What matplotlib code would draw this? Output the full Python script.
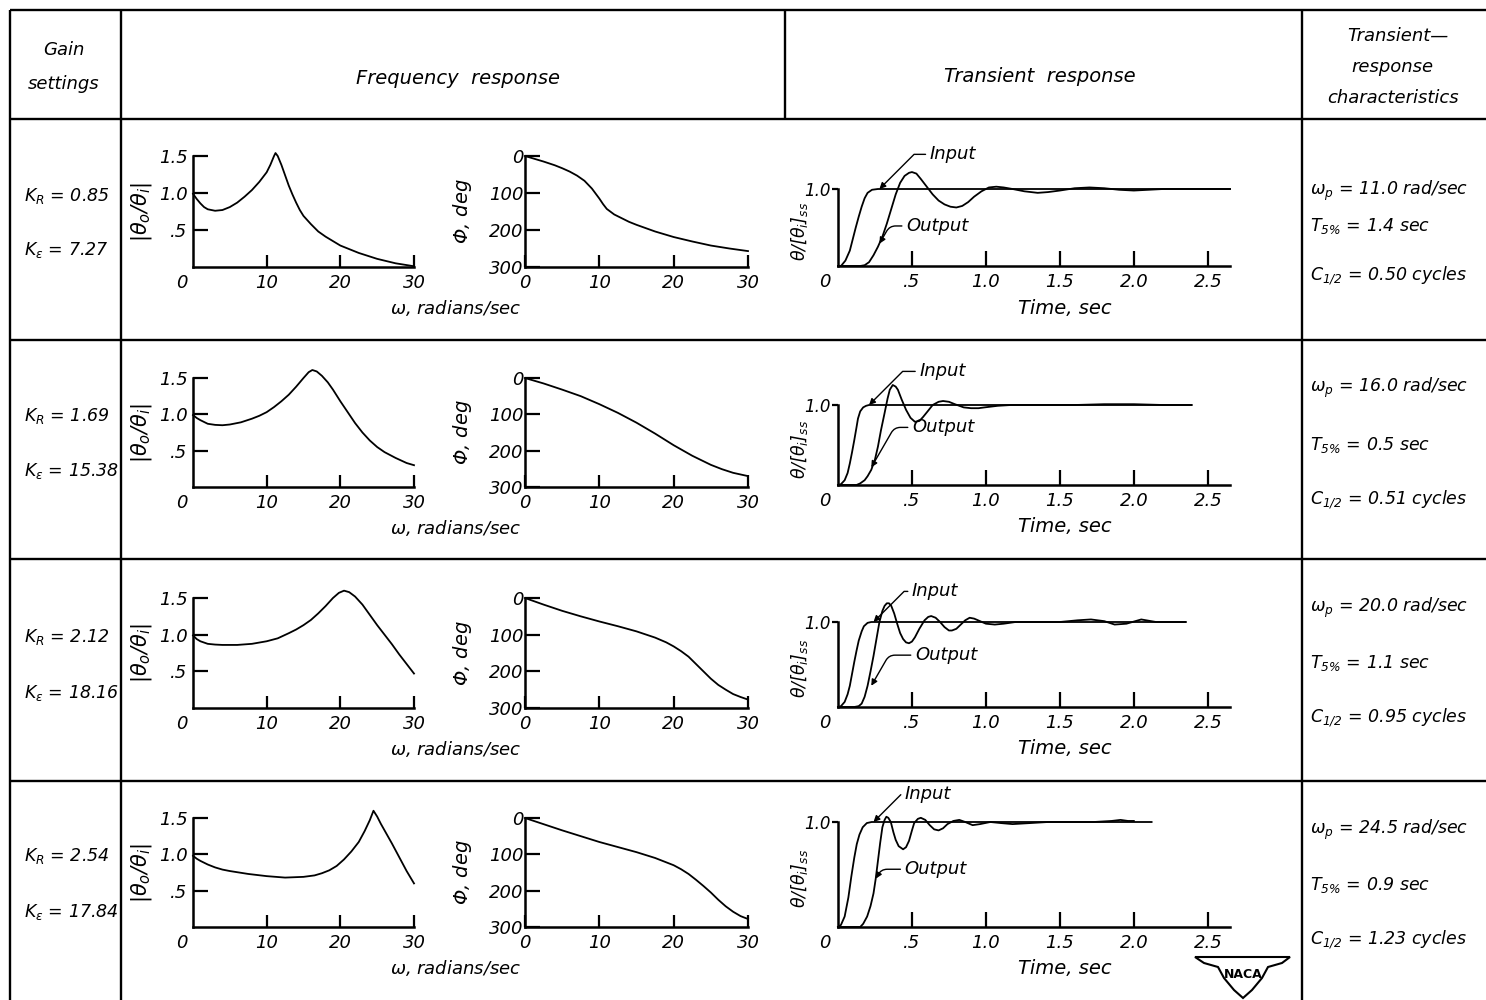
import matplotlib
matplotlib.use("Agg")
import matplotlib.pyplot as plt
from matplotlib.patches import Polygon

W, H = 1486, 1000
plt.rcParams['font.family'] = ['DejaVu Sans']
plt.rcParams['font.style'] = 'italic'
plt.rcParams['mathtext.fontset'] = 'dejavusans'

# ---------------- data ----------------
kr_values = ["0.85", "1.69", "2.12", "2.54"]
ke_values = ["7.27", "15.38", "18.16", "17.84"]
omega_p = ["11.0", "16.0", "20.0", "24.5"]
t5_values = ["1.4", "0.5", "1.1", "0.9"]
c_half = ["0.50", "0.51", "0.95", "1.23"]

# amplitude ratio |theta_o/theta_i| vs omega (rad/sec)
mag_w_1 = [0, 0.5, 1, 1.5, 2, 3, 4, 5, 6, 7, 8, 9, 10, 10.5, 11, 11.2, 11.5, 12, 12.5, 13, 13.5, 14, 14.5, 15, 16, 17, 18, 19, 20, 22.5, 25, 27.5, 30]
mag_1 = [0.99, 0.92, 0.86, 0.81, 0.78, 0.76, 0.77, 0.81, 0.87, 0.95, 1.04, 1.15, 1.28, 1.38, 1.50, 1.54, 1.50, 1.38, 1.24, 1.10, 0.98, 0.87, 0.77, 0.69, 0.58, 0.48, 0.41, 0.35, 0.29, 0.19, 0.11, 0.05, 0.01]
mag_w_2 = [0, 0.5, 1, 2, 3, 4, 5, 6.5, 8, 9, 10, 11, 12, 13, 14, 15, 15.7, 16.2, 16.8, 17.5, 18.3, 19, 20, 21, 22, 23, 24, 25, 26, 27.5, 29, 30]
mag_2 = [0.99, 0.95, 0.92, 0.87, 0.855, 0.85, 0.86, 0.89, 0.94, 0.98, 1.03, 1.10, 1.18, 1.27, 1.38, 1.50, 1.58, 1.61, 1.59, 1.53, 1.44, 1.34, 1.18, 1.03, 0.88, 0.75, 0.64, 0.55, 0.48, 0.40, 0.33, 0.30]
mag_w_3 = [0, 0.5, 1, 2, 3, 4, 6, 8, 10, 11.5, 13, 14, 15, 16, 17, 18, 19, 19.8, 20.5, 21.2, 22, 23, 24, 25, 26, 27, 28, 29, 30]
mag_3 = [0.99, 0.94, 0.91, 0.875, 0.865, 0.86, 0.86, 0.875, 0.91, 0.95, 1.02, 1.07, 1.13, 1.20, 1.29, 1.39, 1.50, 1.57, 1.60, 1.58, 1.52, 1.41, 1.27, 1.13, 1.00, 0.87, 0.73, 0.60, 0.47]
mag_w_4 = [0, 0.5, 1, 2, 3, 4, 5, 7.5, 10, 12.5, 15, 16.5, 17.5, 18.5, 19.5, 20.5, 21.5, 22.5, 23.3, 24, 24.5, 25, 25.5, 26, 27, 28, 29, 30]
mag_4 = [0.98, 0.94, 0.91, 0.86, 0.82, 0.79, 0.77, 0.73, 0.70, 0.68, 0.69, 0.71, 0.74, 0.78, 0.84, 0.93, 1.04, 1.17, 1.32, 1.47, 1.60, 1.52, 1.42, 1.33, 1.15, 0.96, 0.77, 0.60]

# phase angle (deg lag) vs omega
ph_w_1 = [0, 1, 2.5, 4, 5, 6, 7, 8, 9, 10, 10.5, 11, 12, 13, 14, 15, 17.5, 20, 22.5, 25, 27.5, 30]
ph_1 = [0, 6, 15, 25, 33, 42, 53, 67, 88, 115, 130, 143, 158, 168, 178, 186, 204, 219, 231, 242, 250, 257]
ph_w_2 = [0, 2.5, 5, 7.5, 10, 12.5, 15, 17.5, 20, 22.5, 24, 25, 26.5, 28, 30]
ph_2 = [0, 15, 32, 50, 72, 96, 123, 153, 185, 214, 229, 239, 251, 261, 270]
ph_w_3 = [0, 2.5, 5, 7.5, 10, 12.5, 15, 17.5, 19, 20, 21, 22, 23, 24, 25, 26, 27, 28, 29, 30]
ph_3 = [0, 18, 35, 50, 64, 77, 91, 108, 121, 132, 145, 160, 180, 200, 220, 237, 250, 262, 270, 277]
ph_w_4 = [0, 2.5, 5, 7.5, 10, 12.5, 15, 17.5, 19, 20, 21, 22, 23, 24, 25, 26, 27, 28, 29, 30]
ph_4 = [0, 17, 34, 50, 66, 80, 94, 110, 122, 130, 141, 154, 170, 187, 205, 225, 243, 258, 270, 278]

# transient responses theta/[theta_i]ss vs time (sec)
in_t_1 = [0, 0.02, 0.05, 0.08, 0.1, 0.12, 0.14, 0.16, 0.18, 0.2, 0.23, 0.27, 2.65]
in_1 = [0, 0, 0.07, 0.2, 0.35, 0.5, 0.64, 0.77, 0.88, 0.95, 0.99, 1.0, 1.0]
out_t_1 = [0, 0.15, 0.18, 0.21, 0.24, 0.27, 0.3, 0.33, 0.36, 0.39, 0.42, 0.45, 0.48, 0.5, 0.53, 0.56, 0.6, 0.64, 0.68, 0.72, 0.76, 0.8, 0.84, 0.88, 0.92, 0.97, 1.02, 1.07, 1.12, 1.18, 1.26, 1.35, 1.42, 1.5, 1.6, 1.7, 1.8, 1.9, 2.0, 2.1, 2.2, 2.65]
out_1 = [0, 0, 0.01, 0.05, 0.14, 0.25, 0.38, 0.55, 0.74, 0.93, 1.08, 1.17, 1.21, 1.22, 1.2, 1.13, 1.03, 0.93, 0.85, 0.8, 0.77, 0.76, 0.78, 0.83, 0.9, 0.97, 1.02, 1.03, 1.02, 1.0, 0.97, 0.95, 0.96, 0.98, 1.01, 1.02, 1.01, 0.99, 0.98, 0.99, 1.0, 1.0]
in_t_2 = [0, 0.02, 0.045, 0.065, 0.08, 0.095, 0.11, 0.125, 0.135, 0.15, 0.17, 0.19, 0.21, 2.39]
in_2 = [0, 0.01, 0.06, 0.15, 0.27, 0.41, 0.56, 0.72, 0.83, 0.92, 0.97, 0.99, 1.0, 1.0]
out_t_2 = [0, 0.125, 0.15, 0.18, 0.2, 0.225, 0.25, 0.27, 0.29, 0.315, 0.335, 0.35, 0.37, 0.39, 0.405, 0.43, 0.46, 0.49, 0.52, 0.55, 0.575, 0.61, 0.64, 0.68, 0.71, 0.75, 0.79, 0.85, 0.9, 0.95, 0.99, 1.08, 1.17, 1.4, 1.6, 1.8, 2.0, 2.2, 2.39]
out_2 = [0, 0, 0.02, 0.06, 0.11, 0.19, 0.32, 0.48, 0.68, 0.9, 1.08, 1.19, 1.25, 1.23, 1.19, 1.07, 0.94, 0.84, 0.79, 0.8, 0.85, 0.93, 1.0, 1.04, 1.05, 1.04, 1.01, 0.97, 0.96, 0.96, 0.97, 0.99, 1.0, 1.0, 1.0, 1.01, 1.01, 1.0, 1.0]
in_t_3 = [0, 0.02, 0.045, 0.065, 0.08, 0.095, 0.11, 0.125, 0.14, 0.16, 0.175, 0.2, 0.225, 2.35]
in_3 = [0, 0.01, 0.06, 0.15, 0.25, 0.39, 0.53, 0.66, 0.78, 0.89, 0.95, 0.99, 1.0, 1.0]
out_t_3 = [0, 0.11, 0.14, 0.16, 0.18, 0.2, 0.22, 0.24, 0.26, 0.28, 0.3, 0.315, 0.33, 0.345, 0.36, 0.38, 0.4, 0.42, 0.44, 0.46, 0.48, 0.5, 0.52, 0.55, 0.585, 0.61, 0.63, 0.66, 0.69, 0.72, 0.75, 0.77, 0.8, 0.83, 0.86, 0.89, 0.92, 0.96, 1.0, 1.06, 1.12, 1.2, 1.35, 1.5, 1.62, 1.71, 1.8, 1.87, 1.95, 2.05, 2.15, 2.35]
out_3 = [0, 0, 0.01, 0.04, 0.12, 0.25, 0.42, 0.6, 0.8, 1.0, 1.13, 1.19, 1.22, 1.22, 1.19, 1.1, 0.98, 0.87, 0.8, 0.76, 0.75, 0.77, 0.82, 0.92, 1.02, 1.06, 1.07, 1.05, 1.0, 0.94, 0.9, 0.9, 0.92, 0.97, 1.02, 1.05, 1.04, 1.01, 0.98, 0.97, 0.98, 1.0, 1.0, 1.0, 1.02, 1.03, 1.01, 0.97, 0.98, 1.03, 1.0, 1.0]
in_t_4 = [0, 0.02, 0.045, 0.07, 0.09, 0.11, 0.127, 0.145, 0.167, 0.195, 0.227, 2.12]
in_4 = [0, 0.02, 0.1, 0.28, 0.48, 0.66, 0.79, 0.88, 0.95, 0.99, 1.0, 1.0]
out_t_4 = [0, 0.15, 0.17, 0.197, 0.22, 0.24, 0.255, 0.27, 0.285, 0.30, 0.315, 0.327, 0.34, 0.357, 0.375, 0.39, 0.41, 0.44, 0.46, 0.48, 0.5, 0.515, 0.54, 0.56, 0.59, 0.62, 0.65, 0.68, 0.71, 0.74, 0.78, 0.82, 0.86, 0.91, 0.96, 1.03, 1.1, 1.18, 1.3, 1.42, 1.6, 1.73, 1.85, 1.91, 1.96, 2.0]
out_4 = [0, 0, 0.03, 0.1, 0.2, 0.32, 0.46, 0.63, 0.8, 0.95, 1.02, 1.05, 1.04, 1.0, 0.9, 0.83, 0.77, 0.74, 0.76, 0.82, 0.92, 0.99, 1.03, 1.04, 1.02, 0.97, 0.93, 0.92, 0.94, 0.98, 1.01, 1.02, 1.0, 0.97, 0.98, 1.0, 0.99, 0.98, 0.99, 1.0, 1.0, 1.0, 1.01, 1.02, 1.01, 1.01]

mag_w = [mag_w_1, mag_w_2, mag_w_3, mag_w_4]
mags = [mag_1, mag_2, mag_3, mag_4]
ph_w = [ph_w_1, ph_w_2, ph_w_3, ph_w_4]
phs = [ph_1, ph_2, ph_3, ph_4]
in_t = [in_t_1, in_t_2, in_t_3, in_t_4]
ins = [in_1, in_2, in_3, in_4]
out_t = [out_t_1, out_t_2, out_t_3, out_t_4]
outs = [out_1, out_2, out_3, out_4]

mag_ticks = [0.5, 1.0, 1.5]
mag_ticklabels = [".5", "1.0", "1.5"]
freq_ticks = [10, 20, 30]
phase_ticks = [0, 100, 200, 300]
time_ticks = [0.5, 1.0, 1.5, 2.0, 2.5]
time_ticklabels = [".5", "1.0", "1.5", "2.0", "2.5"]

# ---------------- layout (pixels) ----------------
row_lines = [119, 340, 559, 781]
fr_top = [156, 378, 598, 818]
fr_bot = [267, 487, 708, 927]
tr_top = [189, 405, 622, 822]
tr_bot = [266, 485, 707, 927]
kr_y = [196, 416, 637, 856]
ke_y = [250, 471, 693, 912]
ch_y = [(191, 226, 276), (388, 445, 500), (608, 663, 718), (830, 885, 940)]
in_txt = [(0.62, 1.45), (0.55, 1.42), (0.50, 1.36), (0.45, 1.27)]
in_tip = [(0.28, 1.0), (0.21, 1.0), (0.24, 1.0), (0.24, 1.0)]
out_txt = [(0.46, 0.52), (0.50, 0.72), (0.52, 0.61), (0.45, 0.55)]
out_tip = [(0.28, 0.29), (0.225, 0.22), (0.225, 0.25), (0.255, 0.46)]

fig = plt.figure(figsize=(W / 100, H / 100), dpi=100)
fig.patch.set_facecolor('white')
bg = fig.add_axes([0, 0, 1, 1])
bg.set_xlim(0, W)
bg.set_ylim(H, 0)
bg.axis('off')

LWT = 1.7
def hline(y, x0=10, x1=W):
    bg.plot([x0, x1], [y, y], color='k', lw=LWT, solid_capstyle='butt')
def vline(x, y0, y1):
    bg.plot([x, x], [y0, y1], color='k', lw=LWT, solid_capstyle='butt')

hline(10)
for y in row_lines:
    hline(y)
vline(10, 10, H)
vline(121, 10, H)
vline(785, 10, row_lines[0])
vline(1302, 10, H)

FS = 13
# header
bg.text(64, 50, "Gain", ha='center', va='center', fontsize=FS)
bg.text(64, 84, "settings", ha='center', va='center', fontsize=FS)
bg.text(458, 78, "Frequency  response", ha='center', va='center', fontsize=14)
bg.text(1040, 76, "Transient  response", ha='center', va='center', fontsize=14)
bg.text(1398, 36, "Transient\u2014", ha='center', va='center', fontsize=FS)
bg.text(1392, 67, "response", ha='center', va='center', fontsize=FS)
bg.text(1393, 98, "characteristics", ha='center', va='center', fontsize=FS)


def style(ax):
    ax.patch.set_alpha(0)
    for s in ('top', 'right'):
        ax.spines[s].set_visible(False)
    for s in ('left', 'bottom'):
        ax.spines[s].set_linewidth(1.8)
    ax.tick_params(width=1.6, labelsize=FS, colors='k')


def px_axes(x0, x1, ytop, ybot):
    ax = fig.add_axes([x0 / W, 1 - ybot / H, (x1 - x0) / W, (ybot - ytop) / H])
    style(ax)
    return ax


for i in range(4):
    # gain settings
    bg.text(24, kr_y[i], r"$K_R$ = " + kr_values[i], ha='left', va='center', fontsize=12.5)
    bg.text(24, ke_y[i], r"$K_\epsilon$ = " + ke_values[i], ha='left', va='center', fontsize=12.5)
    # characteristics
    y1, y2, y3 = ch_y[i]
    bg.text(1310, y1, r"$\omega_p$ = " + omega_p[i] + " rad/sec", ha='left', va='center', fontsize=12.5)
    bg.text(1310, y2, r"$T_{5\%}$ = " + t5_values[i] + " sec", ha='left', va='center', fontsize=12.5)
    bg.text(1310, y3, r"$C_{1/2}$ = " + c_half[i] + " cycles", ha='left', va='center', fontsize=12.5)

    # amplitude ratio
    ax = px_axes(193, 414, fr_top[i], fr_bot[i])
    ax.plot(mag_w[i], mags[i], color='k', lw=1.3, clip_on=False)
    ax.set_xlim(0, 30)
    ax.set_ylim(0, 1.5)
    ax.set_xticks(freq_ticks)
    ax.set_xticklabels([str(v) for v in freq_ticks])
    ax.set_yticks(mag_ticks)
    ax.set_yticklabels(mag_ticklabels)
    ax.tick_params(axis='x', direction='in', length=9, pad=5)
    ax.tick_params(axis='y', direction='in', length=11, pad=4)
    ax.annotate("0", xy=(0, 0), xycoords='axes fraction', xytext=(-4, -5),
                textcoords='offset points', ha='right', va='top', fontsize=FS)
    cy = (fr_top[i] + fr_bot[i]) / 2
    bg.text(141, cy, r"$|\theta_o/\theta_i|$", rotation=90, ha='center', va='center', fontsize=15)

    # phase
    ax = px_axes(525, 748, fr_top[i], fr_bot[i])
    ax.plot(ph_w[i], phs[i], color='k', lw=1.3, clip_on=False)
    ax.set_xlim(0, 30)
    ax.set_ylim(300, 0)
    ax.set_xticks([0] + freq_ticks)
    ax.set_xticklabels([str(v) for v in [0] + freq_ticks])
    ax.set_yticks(phase_ticks)
    ax.set_yticklabels([str(v) for v in phase_ticks])
    ax.tick_params(axis='x', direction='in', length=9, pad=5)
    ax.tick_params(axis='y', direction='in', length=11, pad=1)
    bg.text(462, cy, r"$\Phi$, deg", rotation=90, ha='center', va='center', fontsize=14)
    bg.text(456, fr_bot[i] + 41, r"$\omega$, radians/sec", ha='center', va='center', fontsize=FS)

    # transient
    ax = px_axes(838, 1230, tr_top[i], tr_bot[i])
    ax.plot(in_t[i], ins[i], color='k', lw=1.3, clip_on=False)
    ax.plot(out_t[i], outs[i], color='k', lw=1.3, clip_on=False)
    ax.set_xlim(0, 2.65)
    ax.set_ylim(0, 1.0)
    ax.set_xticks(time_ticks)
    ax.set_xticklabels(time_ticklabels)
    ax.set_yticks([1.0])
    ax.set_yticklabels(["1.0"])
    ax.tick_params(axis='x', direction='in', length=11, pad=5)
    ax.tick_params(axis='y', direction='out', length=4, pad=1, labelsize=12)
    ax.annotate("0", xy=(0, 0), xycoords='axes fraction', xytext=(-5, -5),
                textcoords='offset points', ha='right', va='top', fontsize=FS)
    ax.annotate("Input", xy=in_tip[i], xytext=in_txt[i], textcoords='data',
                ha='left', va='center', fontsize=FS, annotation_clip=False,
                arrowprops=dict(arrowstyle='-|>', color='k', lw=1.0, mutation_scale=9,
                                shrinkA=1, shrinkB=0,
                                connectionstyle="angle,angleA=0,angleB=45,rad=0"))
    ax.annotate("Output", xy=out_tip[i], xytext=out_txt[i], textcoords='data',
                ha='left', va='center', fontsize=FS, annotation_clip=False,
                arrowprops=dict(arrowstyle='-|>', color='k', lw=1.0, mutation_scale=9,
                                shrinkA=1, shrinkB=0,
                                connectionstyle="angle,angleA=0,angleB=60,rad=6"))
    bg.text(800, (tr_top[i] + tr_bot[i]) / 2 + 4, r"$\theta/[\theta_i]_{ss}$", rotation=90,
            ha='center', va='center', fontsize=12.5)
    bg.text(1065, tr_bot[i] + 42, "Time, sec", ha='center', va='center', fontsize=14)

# NACA emblem
emblem = Polygon([(1195, 957), (1290, 957), (1282, 963), (1268, 967), (1262, 978),
                  (1252, 990), (1243, 998), (1234, 990), (1224, 978), (1218, 967),
                  (1204, 963)], closed=True, facecolor='white', edgecolor='k', lw=1.5)
bg.add_patch(emblem)
bg.text(1243, 974, "NACA", ha='center', va='center', fontsize=9, style='normal', weight='bold')

fig.savefig("out.png", dpi=100)
